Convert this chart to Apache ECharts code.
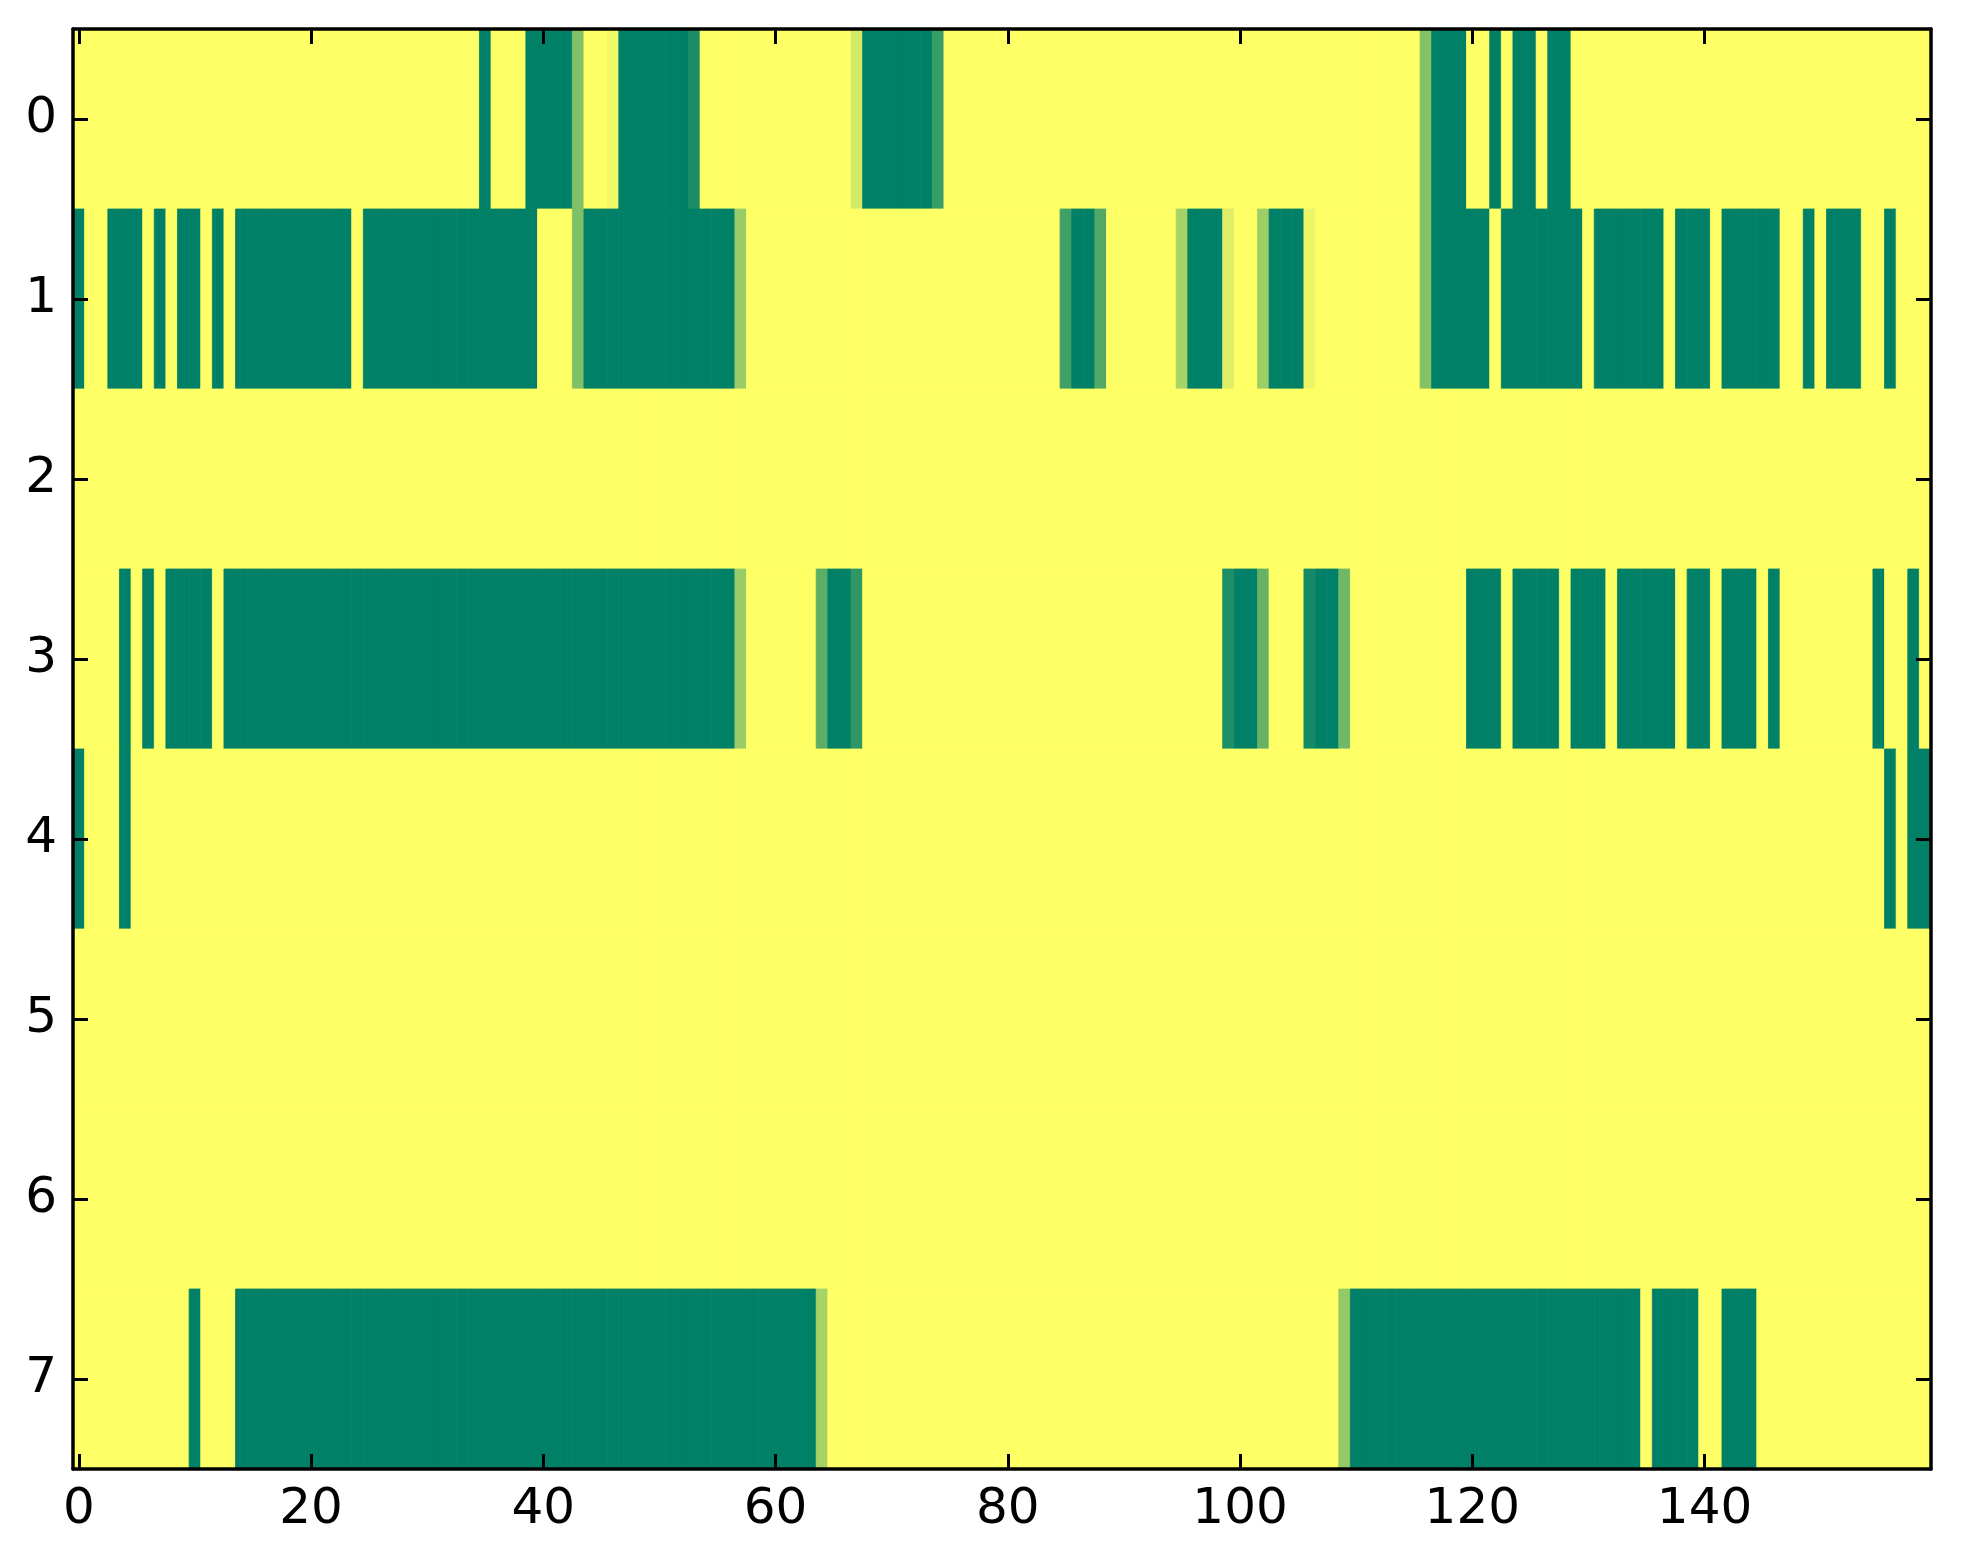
<!DOCTYPE html>
<html>
<head>
<meta charset="utf-8">
<script src="https://cdn.jsdelivr.net/npm/echarts@6/dist/echarts.min.js"></script>
<style>
html,body{margin:0;padding:0;background:#fff;}
#chart{width:1963px;height:1564px;}
</style>
</head>
<body>
<div id="chart"></div>
<script>
// Column categories 0..159 and row categories 0..7
var xCategories = [];
for (var i = 0; i < 160; i++) xCategories.push(String(i));
var yCategories = ['0','1','2','3','4','5','6','7'];

// Cell values per row (0 = green, 1 = yellow), 160 columns each
var row0 = [
1,1,1,1,1,1,1,1,1,1,1,1,1,1,1,1,1,1,1,1,
1,1,1,1,1,1,1,1,1,1,1,1,1,1,1,0,1,1,1,0,
0,0,0,0.5,1,1,0.95,0,0,0,0,0,0,0.1,1,1,1,1,1,1,
1,1,1,1,1,1,1,0.83,0,0,0,0,0,0,0.22,1,1,1,1,1,
1,1,1,1,1,1,1,1,1,1,1,1,1,1,1,1,1,1,1,1,
1,1,1,1,1,1,1,1,1,1,1,1,1,1,1,1,0.52,0,0,0,
1,1,0,1,0,0,1,0,0,1,1,1,1,1,1,1,1,1,1,1,
1,1,1,1,1,1,1,1,1,1,1,1,1,1,1,1,1,1,1,1];
var row1 = [
0,1,1,0,0,0,1,0,1,0,0,1,0,1,0,0,0,0,0,0,
0,0,0,0,1,0,0,0,0,0,0,0,0,0,0,0,0,0,0,0,
1,1,1,0.5,0,0,0,0,0,0,0,0,0,0,0,0,0,0.6,1,1,
1,1,1,1,1,1,1,1,1,1,1,1,1,1,1,1,1,1,1,1,
1,1,1,1,1,0.25,0,0,0.32,1,1,1,1,1,1,0.65,0,0,0,0.87,
1,1,0.62,0,0,0,0.92,1,1,1,1,1,1,1,1,1,0.52,0,0,0,
0,0,1,0,0,0,0,0,0,0,1,0,0,0,0,0,0,1,0,0,
0,1,0,0,0,0,0,1,1,0,1,0,0,0,1,1,0,1,1,1];
var row2 = [
1,1,1,1,1,1,1,1,1,1,1,1,1,1,1,1,1,1,1,1,
1,1,1,1,1,1,1,1,1,1,1,1,1,1,1,1,1,1,1,1,
1,1,1,1,1,1,1,1,1,1,1,1,1,1,1,1,1,1,1,1,
1,1,1,1,1,1,1,1,1,1,1,1,1,1,1,1,1,1,1,1,
1,1,1,1,1,1,1,1,1,1,1,1,1,1,1,1,1,1,1,1,
1,1,1,1,1,1,1,1,1,1,1,1,1,1,1,1,1,1,1,1,
1,1,1,1,1,1,1,1,1,1,1,1,1,1,1,1,1,1,1,1,
1,1,1,1,1,1,1,1,1,1,1,1,1,1,1,1,1,1,1,1];
var row3 = [
1,1,1,1,0,1,0,1,0,0,0,0,1,0,0,0,0,0,0,0,
0,0,0,0,0,0,0,0,0,0,0,0,0,0,0,0,0,0,0,0,
0,0,0,0,0,0,0,0,0,0,0,0,0,0,0,0,0,0.6,1,1,
1,1,1,1,0.36,0,0,0.18,1,1,1,1,1,1,1,1,1,1,1,1,
1,1,1,1,1,1,1,1,1,1,1,1,1,1,1,1,1,1,1,0.12,
0,0,0.4,1,1,1,0.08,0,0,0.44,1,1,1,1,1,1,1,1,1,1,
0,0,0,1,0,0,0,0,1,0,0,0,1,0,0,0,0,0,1,0,
0,1,0,0,0,1,0,1,1,1,1,1,1,1,1,0,1,1,0,1];
var row4 = [
0,1,1,1,0,1,1,1,1,1,1,1,1,1,1,1,1,1,1,1,
1,1,1,1,1,1,1,1,1,1,1,1,1,1,1,1,1,1,1,1,
1,1,1,1,1,1,1,1,1,1,1,1,1,1,1,1,1,1,1,1,
1,1,1,1,1,1,1,1,1,1,1,1,1,1,1,1,1,1,1,1,
1,1,1,1,1,1,1,1,1,1,1,1,1,1,1,1,1,1,1,1,
1,1,1,1,1,1,1,1,1,1,1,1,1,1,1,1,1,1,1,1,
1,1,1,1,1,1,1,1,1,1,1,1,1,1,1,1,1,1,1,1,
1,1,1,1,1,1,1,1,1,1,1,1,1,1,1,1,0,1,0,0];
var row5 = [
1,1,1,1,1,1,1,1,1,1,1,1,1,1,1,1,1,1,1,1,
1,1,1,1,1,1,1,1,1,1,1,1,1,1,1,1,1,1,1,1,
1,1,1,1,1,1,1,1,1,1,1,1,1,1,1,1,1,1,1,1,
1,1,1,1,1,1,1,1,1,1,1,1,1,1,1,1,1,1,1,1,
1,1,1,1,1,1,1,1,1,1,1,1,1,1,1,1,1,1,1,1,
1,1,1,1,1,1,1,1,1,1,1,1,1,1,1,1,1,1,1,1,
1,1,1,1,1,1,1,1,1,1,1,1,1,1,1,1,1,1,1,1,
1,1,1,1,1,1,1,1,1,1,1,1,1,1,1,1,1,1,1,1];
var row6 = [
1,1,1,1,1,1,1,1,1,1,1,1,1,1,1,1,1,1,1,1,
1,1,1,1,1,1,1,1,1,1,1,1,1,1,1,1,1,1,1,1,
1,1,1,1,1,1,1,1,1,1,1,1,1,1,1,1,1,1,1,1,
1,1,1,1,1,1,1,1,1,1,1,1,1,1,1,1,1,1,1,1,
1,1,1,1,1,1,1,1,1,1,1,1,1,1,1,1,1,1,1,1,
1,1,1,1,1,1,1,1,1,1,1,1,1,1,1,1,1,1,1,1,
1,1,1,1,1,1,1,1,1,1,1,1,1,1,1,1,1,1,1,1,
1,1,1,1,1,1,1,1,1,1,1,1,1,1,1,1,1,1,1,1];
var row7 = [
1,1,1,1,1,1,1,1,1,1,0,1,1,1,0,0,0,0,0,0,
0,0,0,0,0,0,0,0,0,0,0,0,0,0,0,0,0,0,0,0,
0,0,0,0,0,0,0,0,0,0,0,0,0,0,0,0,0,0,0,0,
0,0,0,0,0.65,1,1,1,1,1,1,1,1,1,1,1,1,1,1,1,
1,1,1,1,1,1,1,1,1,1,1,1,1,1,1,1,1,1,1,1,
1,1,1,1,1,1,1,1,1,0.58,0,0,0,0,0,0,0,0,0,0,
0,0,0,0,0,0,0,0,0,0,0,0,0,0,0,1,0,0,0,0,
1,1,0,0,0,1,1,1,1,1,1,1,1,1,1,1,1,1,1,1];

var rows = [row0,row1,row2,row3,row4,row5,row6,row7];
var cells = [];
for (var r = 0; r < rows.length; r++) {
  for (var c = 0; c < rows[r].length; c++) {
    cells.push([c, r, rows[r][c]]);
  }
}

var FONT = 'DejaVu Sans';
var axisLineStyle = {color:'#000', width:3.5};
var tickStyle = {color:'#000', width:3};
var chart = echarts.init(document.getElementById('chart'), null, {renderer:'canvas'});
chart.setOption({
  animation: false,
  backgroundColor: '#ffffff',
  grid: {left:73, top:29, width:1858, height:1440, containLabel:false},
  xAxis: [{
    type:'category', data:xCategories, position:'bottom', z:10,
    axisLine:{show:true, lineStyle:axisLineStyle},
    axisTick:{show:true, inside:true, length:15, interval:19, alignWithLabel:true, lineStyle:tickStyle},
    axisLabel:{show:true, interval:19, color:'#000', fontFamily:FONT, fontSize:50, margin:16},
    splitLine:{show:false}
  },{
    type:'category', data:xCategories, position:'top', z:10,
    axisLine:{show:true, lineStyle:axisLineStyle},
    axisTick:{show:true, inside:true, length:15, interval:19, alignWithLabel:true, lineStyle:tickStyle},
    axisLabel:{show:false},
    splitLine:{show:false}
  }],
  yAxis: [{
    type:'category', data:yCategories, inverse:true, position:'left', z:10,
    axisLine:{show:true, lineStyle:axisLineStyle},
    axisTick:{show:true, inside:true, length:15, alignWithLabel:true, lineStyle:tickStyle},
    axisLabel:{show:true, color:'#000', fontFamily:FONT, fontSize:50, margin:16},
    splitLine:{show:false}
  },{
    type:'category', data:yCategories, inverse:true, position:'right', z:10,
    axisLine:{show:true, lineStyle:axisLineStyle},
    axisTick:{show:true, inside:true, length:15, alignWithLabel:true, lineStyle:tickStyle},
    axisLabel:{show:false},
    splitLine:{show:false}
  }],
  visualMap: {
    type:'continuous', min:0, max:1, show:false, dimension:2, seriesIndex:0,
    inRange:{color:['#008066','#ffff66']}
  },
  series: [{
    type:'custom', xAxisIndex:0, yAxisIndex:0,
    data: cells,
    encode:{x:0, y:1},
    renderItem: function (params, api) {
      var p = api.coord([api.value(0), api.value(1)]);
      var s = api.size([1, 1]);
      var color = api.visual('color');
      return {
        type:'rect',
        shape:{x:p[0]-s[0]/2, y:p[1]-s[1]/2, width:s[0], height:s[1]},
        style:{fill:color, stroke:color, lineWidth:0.8}
      };
    },
    z: 2,
    emphasis:{disabled:true}
  }]
});
</script>
</body>
</html>
